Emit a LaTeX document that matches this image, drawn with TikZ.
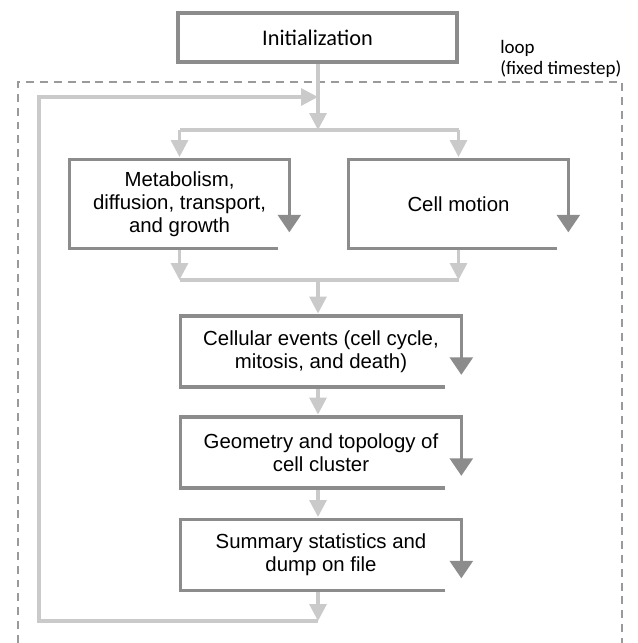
\documentclass[tikz,border=0pt]{standalone}
\usepackage{fontspec}
\setmainfont{Liberation Sans}
\newfontfamily\calfont{Carlito}
\usepackage{tikz}
\usetikzlibrary{arrows.meta,calc}

\definecolor{boxgray}{HTML}{8C8C8C}
\definecolor{flowgray}{HTML}{CACACA}
\definecolor{loopgray}{HTML}{9A9A9A}

\begin{document}
\begin{tikzpicture}[x=0.02cm, y=-0.02cm,
	boxtext/.style={align=center, inner sep=0pt, font=\fontsize{11.6}{13}\selectfont},
	flowbox/.style={boxtext, minimum width=5.6cm, minimum height=1.4cm},
	sidebox/.style={boxtext, minimum width=4.38cm, minimum height=1.76cm},
	outline/.style={draw=boxgray, line width=2pt, -{Triangle[length=10pt,width=13pt]}},
	flow/.style={draw=flowgray, line width=1.8pt},
	flowarrow/.style={flow, -{Triangle[length=9.6pt,width=9.6pt]}},
	loopframe/.style={draw=loopgray, line width=1.1pt, dash pattern=on 4.5pt off 3.4pt}]
	\useasboundingbox (0,0) rectangle (638,643);
	
	% loop frame
	\draw[loopframe] (18,643) -- (18,82) -- (622,82) -- (622,643);
	\node[anchor=west, align=left, inner sep=0pt, font=\calfont\fontsize{10.8}{12}\selectfont] (loop) at (500,59) {loop\\(fixed timestep)};
	
	\node(init) [draw=boxgray, line width=2pt, minimum width=5.58cm, minimum height=0.98cm, inner sep=0pt, font=\calfont\fontsize{12.7}{15}\selectfont] at (317.5,37.5) {Initialization};
	\node(met) [sidebox] at (179.5,204) {Metabolism,\\ diffusion, transport,\\ and growth};
	\node(mot) [sidebox] at (458.5,204) {Cell motion};
	\node(cel) [flowbox] at (321,351.5) {Cellular events (cell cycle,\\ mitosis, and death)};
	\node(geo) [flowbox] at (321,452.5) {Geometry and topology of\\ cell cluster};
	\node(sum) [flowbox] at (321,555) {Summary statistics and\\ dump on file};
	
	\coordinate (loopin) at (318,97);
	\coordinate (fork) at (318,130);
	\coordinate (join) at (318,280);
	\coordinate (back) at (318,621);
	\coordinate (leftside) at (39,360);
	
	% light flow
	\draw[flowarrow] (init.south -| fork) -- (fork);
	\draw[flow] (fork -| met.north) -- (fork -| mot.north);
	\draw[flowarrow, shorten >=1.5pt] (fork -| met.north) -- (met.north);
	\draw[flowarrow, shorten >=1.5pt] (fork -| mot.north) -- (mot.north);
	\draw[flowarrow] (met.south) -- (met.south |- join);
	\draw[flowarrow] (mot.south) -- (mot.south |- join);
	\draw[flow] (met.south |- join) -- (mot.south |- join);
	\draw[flowarrow, shorten >=1.5pt] (join) -- (cel.north -| join);
	\draw[flowarrow, shorten >=1.5pt] (cel.south -| join) -- (geo.north -| join);
	\draw[flowarrow, shorten >=1.5pt] (geo.south -| join) -- (sum.north -| join);
	\draw[flowarrow] (sum.south -| join) -- (back);
	\draw[flowarrow] (back) -| (leftside) |- (loopin);
	
	% box outlines
	\foreach \b/\g/\t in {met/0.22/0.32, mot/0.22/0.32, cel/0.32/0.24, geo/0.32/0.24, sum/0.32/0.24}
	\draw[outline] ([xshift=-\g cm]\b.south east) -- (\b.south west) -- (\b.north west) -- (\b.north east) -- ([yshift=\t cm]\b.south east);
\end{tikzpicture}
\end{document}
